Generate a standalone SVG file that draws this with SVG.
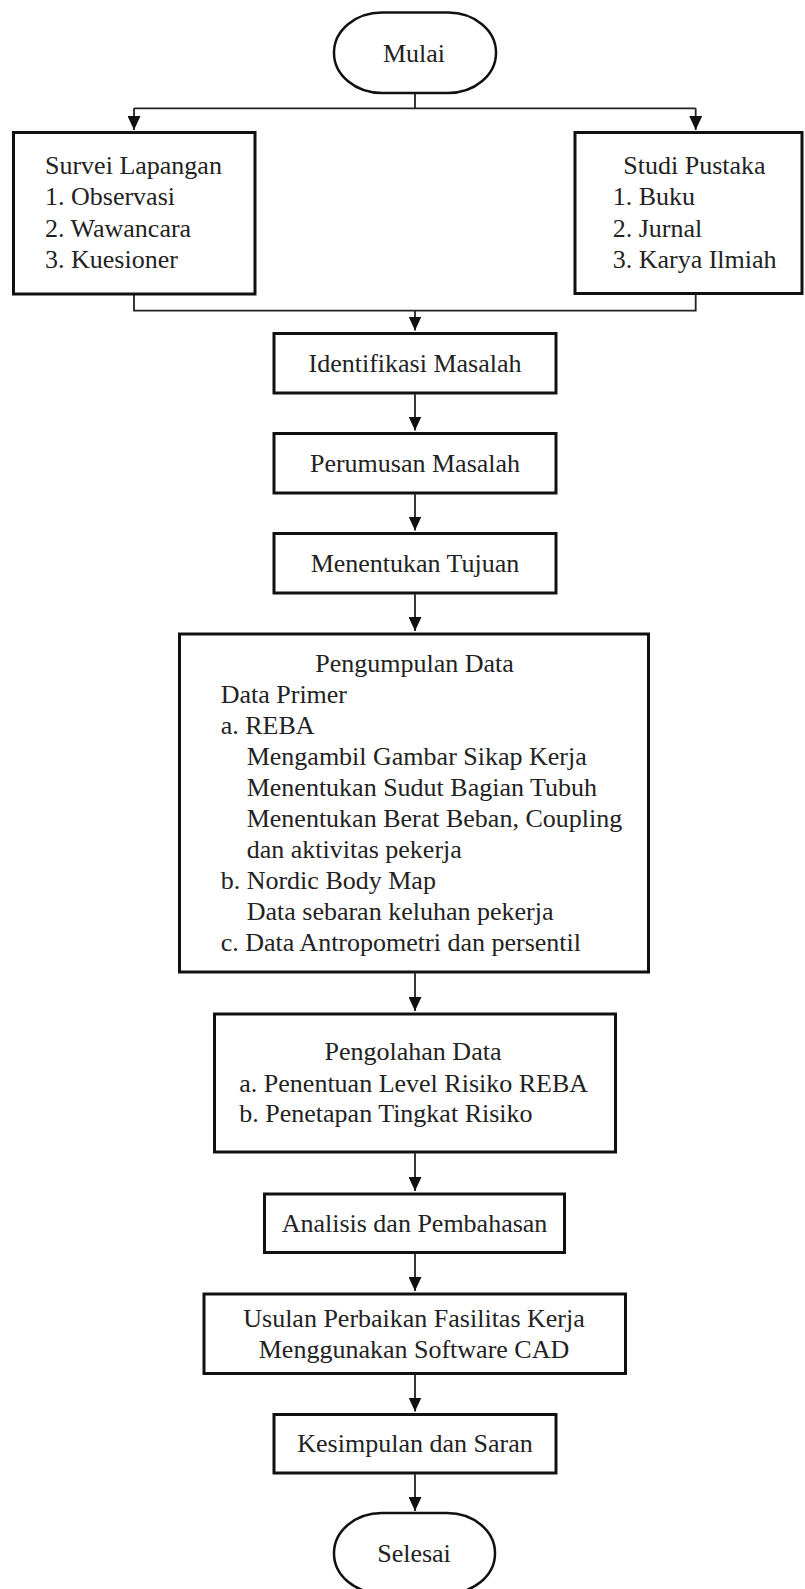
<svg xmlns="http://www.w3.org/2000/svg" width="805" height="1589" viewBox="0 0 805 1589">
<defs>
<style>
.box{fill:#fff;stroke:#111;stroke-width:3}
.term{fill:#fff;stroke:#111;stroke-width:2.5}
.t{font-family:"Liberation Serif","Times New Roman",serif;font-size:26px;fill:#222}
.c{text-anchor:middle}
.ln{fill:none;stroke:#222;stroke-width:1.8}
</style>
<marker id="ah" viewBox="0 0 14 13" refX="14" refY="6.5" markerWidth="14" markerHeight="13" markerUnits="userSpaceOnUse" orient="auto">
<path d="M0,0 L14,6.5 L0,13 z" fill="#111"/>
</marker>
</defs>
<rect width="805" height="1589" fill="#fff"/>

<g id="connectors">
<path class="ln" d="M415,93 V108.3 M134,108.3 H695.7"/>
<path class="ln" d="M134,108.3 V130" marker-end="url(#ah)"/>
<path class="ln" d="M695.7,108.3 V130" marker-end="url(#ah)"/>
<path class="ln" d="M134,295 V310.7 H695.7 V294"/>
<path class="ln" d="M415,310.7 V330.5" marker-end="url(#ah)"/>
<path class="ln" d="M415,394.3 V430.5" marker-end="url(#ah)"/>
<path class="ln" d="M415,494.3 V530.5" marker-end="url(#ah)"/>
<path class="ln" d="M415,594.3 V631" marker-end="url(#ah)"/>
<path class="ln" d="M415,973.3 V1011" marker-end="url(#ah)"/>
<path class="ln" d="M415,1153.3 V1191" marker-end="url(#ah)"/>
<path class="ln" d="M415,1254 V1291" marker-end="url(#ah)"/>
<path class="ln" d="M415,1375 V1411.5" marker-end="url(#ah)"/>
<path class="ln" d="M415,1474.3 V1511" marker-end="url(#ah)"/>
</g>

<g id="mulai">
<rect class="term" x="334" y="12.5" width="162" height="80.5" rx="48" ry="40"/>
<text class="t c" x="414" y="62">Mulai</text>
</g>

<g id="survei">
<rect class="box" x="13.5" y="132.5" width="241.5" height="161.5"/>
<text class="t" x="45" y="174">Survei Lapangan</text>
<text class="t" x="45" y="205.3">1. Observasi</text>
<text class="t" x="45" y="236.7">2. Wawancara</text>
<text class="t" x="45" y="268">3. Kuesioner</text>
</g>

<g id="studi">
<rect class="box" x="575" y="132.5" width="227" height="161"/>
<text class="t c" x="694.5" y="174">Studi Pustaka</text>
<text class="t" x="612.7" y="205.3">1. Buku</text>
<text class="t" x="612.7" y="236.7">2. Jurnal</text>
<text class="t" x="612.7" y="268">3. Karya Ilmiah</text>
</g>

<g id="identifikasi">
<rect class="box" x="274" y="333.5" width="282" height="59.5"/>
<text class="t c" x="415" y="371.7">Identifikasi Masalah</text>
</g>

<g id="perumusan">
<rect class="box" x="274" y="433.5" width="282" height="59.5"/>
<text class="t c" x="415" y="471.7">Perumusan Masalah</text>
</g>

<g id="tujuan">
<rect class="box" x="274" y="533.5" width="282" height="59.5"/>
<text class="t c" x="415" y="571.7">Menentukan Tujuan</text>
</g>

<g id="pengumpulan">
<rect class="box" x="179.5" y="634" width="469" height="338"/>
<text class="t c" x="414.5" y="671.5">Pengumpulan Data</text>
<text class="t" x="220.7" y="702.6">Data Primer</text>
<text class="t" x="220.7" y="733.7">a. REBA</text>
<text class="t" x="246.7" y="764.8">Mengambil Gambar Sikap Kerja</text>
<text class="t" x="246.7" y="795.9">Menentukan Sudut Bagian Tubuh</text>
<text class="t" x="246.7" y="827">Menentukan Berat Beban, Coupling</text>
<text class="t" x="246.7" y="858.1">dan aktivitas pekerja</text>
<text class="t" x="220.7" y="889.2">b. Nordic Body Map</text>
<text class="t" x="246.7" y="920.3">Data sebaran keluhan pekerja</text>
<text class="t" x="220.7" y="951.4">c. Data Antropometri dan persentil</text>
</g>

<g id="pengolahan">
<rect class="box" x="214.5" y="1014" width="401" height="138"/>
<text class="t c" x="413" y="1060">Pengolahan Data</text>
<text class="t" x="239.3" y="1091.7">a. Penentuan Level Risiko REBA</text>
<text class="t" x="239.3" y="1121.7">b. Penetapan Tingkat Risiko</text>
</g>

<g id="analisis">
<rect class="box" x="264.5" y="1194" width="300" height="58.5"/>
<text class="t c" x="414.5" y="1231.7">Analisis dan Pembahasan</text>
</g>

<g id="usulan">
<rect class="box" x="204" y="1294" width="421.5" height="79.5"/>
<text class="t c" x="414" y="1326.7">Usulan Perbaikan Fasilitas Kerja</text>
<text class="t c" x="414" y="1358.3">Menggunakan Software CAD</text>
</g>

<g id="kesimpulan">
<rect class="box" x="274" y="1414.5" width="282" height="58.5"/>
<text class="t c" x="415" y="1451.7">Kesimpulan dan Saran</text>
</g>

<g id="selesai">
<rect class="term" x="334" y="1513" width="161" height="80.5" rx="48" ry="40"/>
<text class="t c" x="414" y="1562">Selesai</text>
</g>
</svg>
